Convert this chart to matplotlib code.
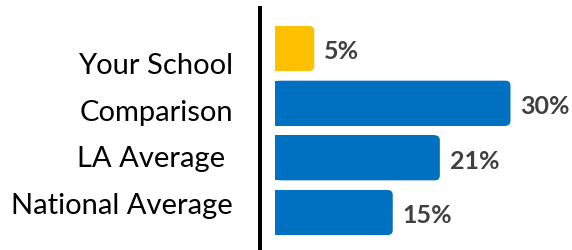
import matplotlib
matplotlib.use("Agg")
import matplotlib.pyplot as plt
from matplotlib.patches import FancyBboxPatch

# data
categories = ["Your School", "Comparison", "LA Average ", "National Average"]
values = [5, 30, 21, 15]
colors = ["#FFC000", "#0070C0", "#0070C0", "#0070C0"]

plt.rcParams["font.family"] = ["Lato", "DejaVu Sans"]

W, H = 572, 251
fig = plt.figure(figsize=(W / 100, H / 100), dpi=100)

# axes: left spine is the thick black line, bars start a bit to its right
px_per_unit = 7.85
ax_left, ax_top = 260, 9
ax = fig.add_axes([ax_left / W, 0, (W - ax_left) / W, (H - ax_top) / H])
x0 = -15 / px_per_unit
ax.set_xlim(x0, x0 + (W - ax_left) / px_per_unit)
row = 54.67
ax.set_ylim((H - 49.5) / row, -(49.5 - ax_top) / row)

bar_h = 45 / row
r = 5 / px_per_unit
bars = ax.barh(range(len(values)), values, height=bar_h, color=colors)
for b, c in zip(bars, colors):
    x, y, w, h = b.get_x(), b.get_y(), b.get_width(), b.get_height()
    b.set_width(w - r)
    ax.add_patch(FancyBboxPatch((x, y), w, h,
                                boxstyle=f"round,pad=0,rounding_size={r}",
                                mutation_aspect=(5 / row) / r,
                                fc=c, ec="none"))

for i, v in enumerate(values):
    ax.text(v + 10 / px_per_unit, i + 0.04, f"{v}%", va="center", ha="left",
            fontsize=18, fontweight="bold", color="#404040")

for s in ["top", "right", "bottom"]:
    ax.spines[s].set_visible(False)
ax.spines["left"].set_linewidth(2.9)
ax.spines["left"].set_color("black")
ax.set_xticks([])
ax.set_yticks([])

# category labels on the left (not aligned with the bars in the original)
for i, cat in enumerate(categories):
    ypx = 66 + i * 46.7
    fig.text(233 / W, 1 - ypx / H, cat, ha="right", va="center",
             fontsize=21, color="black")

fig.savefig("out.png", dpi=100)
